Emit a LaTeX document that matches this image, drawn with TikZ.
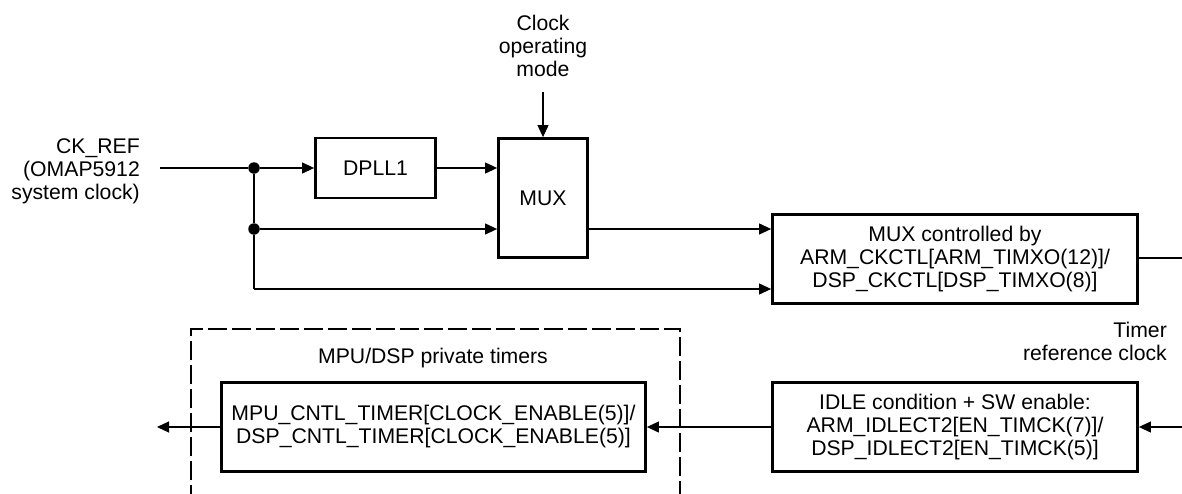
\documentclass[tikz,border=0pt]{standalone}
\usepackage{fontspec}
\setmainfont{Liberation Sans}
\usetikzlibrary{arrows.meta}
\begin{document}
\begin{tikzpicture}[x=1pt,y=-1pt,
  txt/.style={font=\fontsize{21.2}{23}\selectfont, inner sep=0pt},
  blk/.style={draw, line width=2.8pt, inner sep=0pt, align=center,
    font=\fontsize{21.2}{23}\selectfont},
  group/.style={draw, line width=2pt, dash pattern=on 19pt off 5pt},
  wire/.style={line width=1.1pt},
  arr/.style={wire, -{Triangle[length=12pt,width=11pt]}},
  junc/.style={circle, fill, inner sep=0pt, minimum size=11.5pt},
]
\useasboundingbox (0,0) rectangle (1182,493);

% dashed enclosure for the private timers
\node[group, minimum width=489pt, minimum height=210pt] (priv) at (435.5,434) {};
\node[txt] (privlbl) at (433,358) {MPU/DSP private timers};

% blocks
\node[blk, minimum width=120pt, minimum height=60pt] (dpll) at (375.5,168) {DPLL1};
\node[blk, minimum width=89pt, minimum height=119pt] (mux) at (543,198) {MUX};
\node[blk, minimum width=365pt, minimum height=89pt] (mctl) at (955,259)
  {MUX controlled by\\ARM\_CKCTL[ARM\_TIMXO(12)]/\\DSP\_CKCTL[DSP\_TIMXO(8)]};
\node[blk, minimum width=365pt, minimum height=89pt] (idle) at (955,427)
  {IDLE condition + SW enable:\\ARM\_IDLECT2[EN\_TIMCK(7)]/\\DSP\_IDLECT2[EN\_TIMCK(5)]};
\node[blk, minimum width=424pt, minimum height=89pt] (mpu) at (433.5,427)
  {MPU\_CNTL\_TIMER[CLOCK\_ENABLE(5)]/\\DSP\_CNTL\_TIMER[CLOCK\_ENABLE(5)]};

% labels
\node[txt, align=right, anchor=east] (cklbl) at (140,171)
  {CK\_REF\\(OMAP5912\\system clock)};
\node[txt, align=center] (clklbl) at (543,46) {Clock\\operating\\mode};
\node[txt, align=right, anchor=east] (tmrlbl) at (1167,341)
  {Timer\\reference clock};

% junctions and free ends
\node[junc] (d1) at (254,168) {};
\node[junc] (d2) at (254,229) {};
\coordinate (bend) at (254,289);
\coordinate (ckin) at (160,168);
\coordinate (clkin) at (543,92);
\coordinate (outR) at (1182,258);
\coordinate (inR) at (1182,427);
\coordinate (outL) at (157,427);

% connectors
\draw[wire] (ckin) -- (d1);
\draw[wire] (d1) -- (d2) -- (bend);
\draw[arr] (d1) -- (dpll.west);
\draw[arr] (dpll.east) -- (dpll.east -| mux.west);
\draw[arr] (d2) -- (d2 -| mux.west);
\draw[arr] (clkin) -- (mux.north);
\draw[arr] (mux.east |- d2) -- (d2 -| mctl.west);
\draw[arr] (bend) -- (bend -| mctl.west);
\draw[wire] (mctl.east |- outR) -- (outR);
\draw[arr] (inR) -- (idle.east);
\draw[arr] (idle.west) -- (mpu.east);
\draw[arr] (mpu.west) -- (outL);
\end{tikzpicture}
\end{document}
